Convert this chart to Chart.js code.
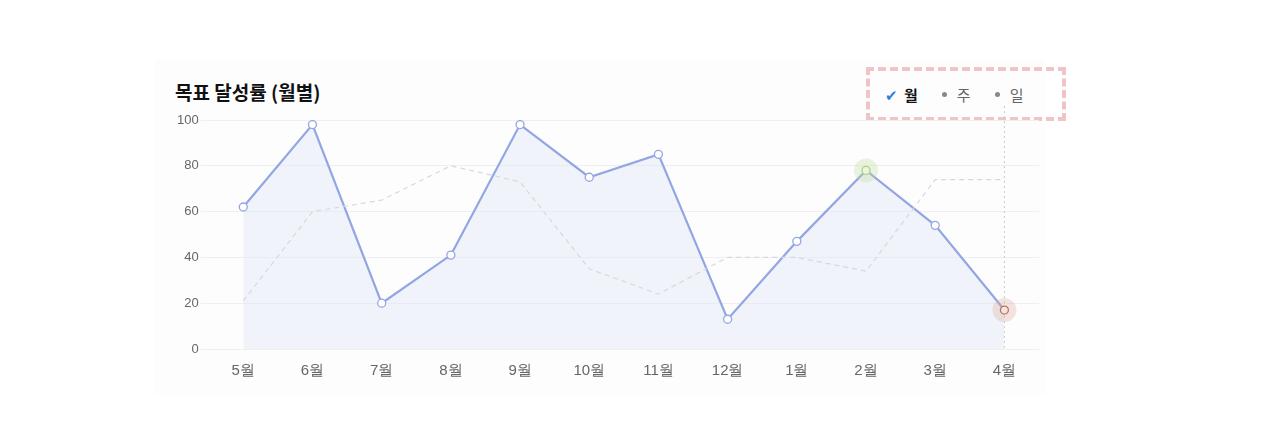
<!DOCTYPE html>
<html><head><meta charset="utf-8">
<script src="https://cdn.jsdelivr.net/npm/chart.js"></script>
<style>
body{margin:0;background:#fff;font-family:"Noto Sans CJK KR","Noto Sans",sans-serif;}
#card{position:absolute;left:155px;top:60px;width:890px;height:335px;background:#fdfdfe;}
#title{position:absolute;left:175px;top:78px;font-size:19px;font-weight:bold;color:#111;}
#legend{position:absolute;left:866px;top:67px;width:192px;height:46px;border:4px dashed #eec4c4;display:flex;align-items:center;font-size:15px;color:#666;}
#legend span{margin-left:14px}
#legend .dot{width:5px;height:5px;border-radius:50%;background:#888;display:inline-block}
#wrap{position:absolute;left:155px;top:100px;width:890px;height:285px;}
</style></head><body>
<div id="card"></div>
<div id="title">목표 달성률 (월별)</div>
<div id="legend"><span style="color:#2f7fe0;margin-left:15px">✔</span><span style="margin-left:6px;color:#111;font-weight:bold">월</span><span class="dot" style="margin-left:24px"></span><span style="margin-left:10px">주</span><span class="dot" style="margin-left:24px"></span><span style="margin-left:10px">일</span></div>
<div id="wrap"><canvas id="chart"></canvas></div>
<script>
const labels = ['5월','6월','7월','8월','9월','10월','11월','12월','1월','2월','3월','4월'];
const monthly = [62, 98, 20, 41, 98, 75, 85, 13, 47, 78, 54, 17];
const compare = [21, 60, 65, 80, 73, 35, 24, 40, 40, 34, 74, 74];
const yTicks = [0, 20, 40, 60, 80, 100];

const blue = '#93a6e4';
const borders = monthly.map((v, i) => i === 9 ? '#a8d07a' : i === 11 ? '#b05a3a' : blue);
const halos = {9: 'rgba(190,220,150,0.3)', 11: 'rgba(220,170,150,0.3)'};

const extras = {
  id: 'extras',
  beforeDatasetsDraw(chart) {
    const c = chart.ctx, area = chart.chartArea;
    const x = chart.scales.x.getPixelForValue(11);
    c.save();
    c.strokeStyle = '#c8c8d0'; c.lineWidth = 1; c.setLineDash([2, 3]);
    c.beginPath(); c.moveTo(x, area.top - 14); c.lineTo(x, area.bottom); c.stroke();
    c.restore();
  },
  afterDatasetsDraw(chart) {
    const c = chart.ctx;
    const meta = chart.getDatasetMeta(1);
    c.save();
    Object.keys(halos).forEach(i => {
      const p = meta.data[i];
      c.fillStyle = halos[i];
      c.beginPath(); c.arc(p.x, p.y, 12, 0, Math.PI * 2); c.fill();
    });
    c.restore();
  }
};

new Chart(document.getElementById('chart').getContext('2d'), {
  type: 'line',
  data: {
    labels: labels,
    datasets: [
      {
        data: compare,
        borderColor: '#d8d8dc',
        borderWidth: 1.2,
        borderDash: [5, 4],
        pointRadius: 0,
        fill: false,
        tension: 0
      },
      {
        data: monthly,
        borderColor: blue,
        borderWidth: 2.2,
        backgroundColor: 'rgba(225,230,245,0.45)',
        fill: 'origin',
        pointRadius: 4,
        pointBackgroundColor: '#fff',
        pointBorderColor: borders,
        pointBorderWidth: 1.3,
        tension: 0
      }
    ]
  },
  options: {
    responsive: true,
    maintainAspectRatio: false,
    animation: false,
    layout: { padding: { left: 20, right: 6, top: 20, bottom: 0 } },
    plugins: { legend: { display: false }, tooltip: { enabled: false } },
    scales: {
      x: {
        offset: true,
        grid: { display: false },
        border: { display: false },
        ticks: { color: '#666', font: { size: 15 }, padding: 5 }
      },
      y: {
        min: 0, max: 100,
        afterBuildTicks: s => { s.ticks = yTicks.map(v => ({ value: v })); },
        grid: { color: '#efeff2' },
        border: { display: false },
        ticks: { color: '#666', font: { size: 13 }, padding: 2 }
      }
    }
  },
  plugins: [extras]
});
</script>
</body></html>
